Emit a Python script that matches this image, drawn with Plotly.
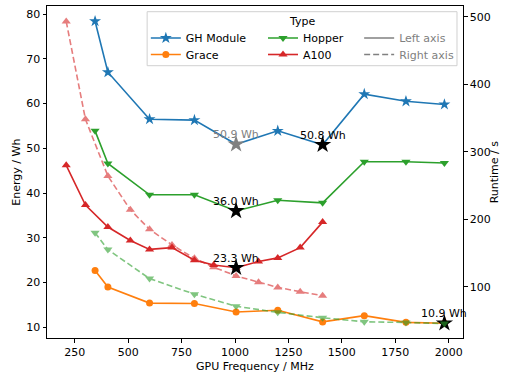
import plotly.graph_objects as go

# ---- data ----
freq_ten = [345, 405, 600, 810, 1005, 1200, 1410, 1605, 1800, 1980]
gh_energy = [78.4, 67.0, 56.5, 56.3, 50.9, 53.9, 50.8, 62.1, 60.5, 59.8]
grace_energy = [22.7, 19.0, 15.4, 15.3, 13.4, 13.8, 11.2, 12.6, 11.1, 10.9]
hopper_energy = [53.9, 46.6, 39.6, 39.6, 36.0, 38.4, 37.8, 47.0, 47.0, 46.7]
hopper_runtime = [180, 155, 112, 89, 71, 62, 54, 48, 47, 45.5]

freq_a100 = [210, 300, 405, 510, 600, 705, 810, 900, 1005, 1110, 1200, 1305, 1410]
a100_energy = [46.2, 37.3, 32.4, 29.4, 27.4, 27.8, 25.0, 23.9, 23.3, 24.7, 25.5, 27.8, 33.5]
a100_runtime = [493, 348, 264, 214, 185, 162, 142, 129, 116, 106.5, 99, 92.6, 86.7]

# highlighted points: (freq, energy, label, colour)
marks_freq = [1005, 1410, 1005, 1005, 1980]
marks_energy = [50.9, 50.8, 36.0, 23.3, 10.9]
marks_label = ["50.9 Wh", "50.8 Wh", "36.0 Wh", "23.3 Wh", "10.9 Wh"]
marks_color = ["#808080", "black", "black", "black", "black"]

x_title = "GPU Frequency / MHz"
y_title = "Energy / Wh"
y2_title = "Runtime / s"

BLUE, ORANGE, GREEN, RED = "#1f77b4", "#ff7f0e", "#2ca02c", "#d62728"
FONT = "DejaVu Sans"
FS = 11

fig = go.Figure()

def solid(x, y, color, symbol, name, legend, size=7):
    fig.add_trace(go.Scatter(x=x, y=y, mode="lines+markers", name=name,
                             line=dict(color=color, width=1.6),
                             marker=dict(symbol=symbol, size=size, color=color),
                             legend=legend, yaxis="y"))

solid(freq_ten, gh_energy, BLUE, "star", "GH Module", "legend", 9)
solid(freq_ten, grace_energy, ORANGE, "circle", "Grace", "legend2", 7)
solid(freq_ten, hopper_energy, GREEN, "triangle-down", "Hopper", "legend3", 8)
solid(freq_a100, a100_energy, RED, "triangle-up", "A100", "legend4", 8)

# highlighted stars
fig.add_trace(go.Scatter(x=marks_freq, y=marks_energy, mode="markers",
                         marker=dict(symbol="star", size=13, color=marks_color),
                         showlegend=False, yaxis="y"))

# right-axis dashed series
fig.add_trace(go.Scatter(x=freq_ten, y=hopper_runtime, mode="lines+markers",
                         line=dict(color=GREEN, width=1.6, dash="6px,3px"),
                         marker=dict(symbol="triangle-down", size=8, color=GREEN),
                         opacity=0.6, showlegend=False, yaxis="y2"))
fig.add_trace(go.Scatter(x=freq_a100, y=a100_runtime, mode="lines+markers",
                         line=dict(color=RED, width=1.6, dash="6px,3px"),
                         marker=dict(symbol="triangle-up", size=8, color=RED),
                         opacity=0.6, showlegend=False, yaxis="y2"))

# legend-only style entries
fig.add_trace(go.Scatter(x=[None], y=[None], mode="lines", name="Left axis",
                         line=dict(color="#808080", width=1.6), legend="legend5"))
fig.add_trace(go.Scatter(x=[None], y=[None], mode="lines", name="Right axis",
                         line=dict(color="#808080", width=1.6, dash="6px,3px"), legend="legend6"))

annotations = []
for f, e, t, c in zip(marks_freq, marks_energy, marks_label, marks_color):
    annotations.append(dict(x=f, y=e, xref="x", yref="y", text=t, showarrow=False,
                            xanchor="center", yanchor="bottom", yshift=1,
                            font=dict(family=FONT, size=FS, color=c)))

# plot-area pixel geometry
L, R, T, B = 47.3, 462.7, 6.0, 338.0
def px(xp):
    return (xp - L) / (R - L)
def py(yp):
    return (B - yp) / (B - T)

def label(xpix, ypix, text, angle=0):
    return dict(x=px(xpix), y=py(ypix), xref="paper", yref="paper", text=text,
                showarrow=False, xanchor="center", yanchor="middle", textangle=angle,
                font=dict(family=FONT, size=FS, color="black"))

annotations.append(label(302, 21, "Type"))
annotations.append(label(255, 366, x_title))
annotations.append(label(16, 172, y_title, -90))
annotations.append(label(494, 172, y2_title, -90))

def leg(xpix, ypix, color="black"):
    return dict(x=px(xpix), y=py(ypix), xanchor="left", yanchor="middle",
                bgcolor="rgba(0,0,0,0)", borderwidth=0, itemwidth=30,
                font=dict(family=FONT, size=FS, color=color))

axis_common = dict(showgrid=False, zeroline=False, showline=True, linecolor="black",
                   linewidth=1, ticks="outside", ticklen=3.5, tickcolor="black",
                   automargin=False)

fig.update_layout(
    width=507, height=373,
    margin=dict(l=L, r=507 - R, t=T, b=373 - B),
    plot_bgcolor="white", paper_bgcolor="white",
    font=dict(family=FONT, size=FS, color="black"),
    xaxis=dict(range=[120, 2067], tickvals=[250, 500, 750, 1000, 1250, 1500, 1750, 2000],
               mirror=True, **axis_common),
    yaxis=dict(range=[7.6, 81.8], tickvals=[10, 20, 30, 40, 50, 60, 70, 80],
               mirror=True, **axis_common),
    yaxis2=dict(range=[24, 516], tickvals=[100, 200, 300, 400, 500], overlaying="y", side="right",
                **axis_common),
    legend=leg(146, 38), legend2=leg(146, 54.5),
    legend3=leg(263, 38), legend4=leg(263, 54.5),
    legend5=leg(359, 38, "#808080"), legend6=leg(359, 54.5, "#808080"),
    annotations=annotations,
    shapes=[dict(type="rect", xref="paper", yref="paper", x0=px(147.3), x1=px(456.7),
                 y0=py(65.7), y1=py(11.7), line=dict(color="#d0d0d0", width=1),
                 fillcolor="rgba(255,255,255,0.8)", layer="above")],
    showlegend=True,
)

fig.write_html("out.html", config={"displayModeBar": False},
               post_script="document.body.style.margin='0';")
